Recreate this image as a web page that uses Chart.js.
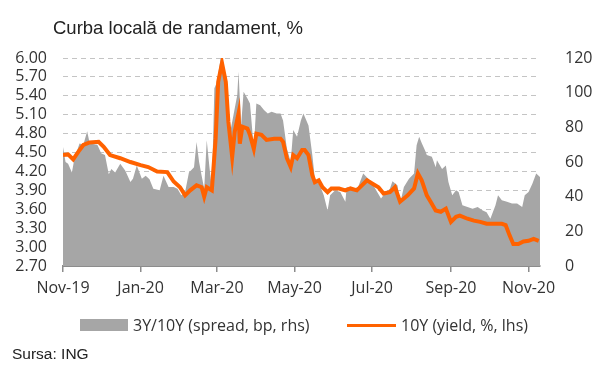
<!DOCTYPE html>
<html>
<head>
<meta charset="utf-8">
<script src="https://cdn.jsdelivr.net/npm/chart.js@4"></script>
<style>
    body { margin: 0; background: #fff; }
    #wrap { position: relative; width: 600px; height: 371px; overflow: hidden; }
    #chart { position: absolute; left: 0; top: 0; }
    .txt { position: absolute; white-space: nowrap; color: #222; }
    #title { left: 53px; top: 19px; font: 18.5px "Liberation Sans", Arial, sans-serif; line-height: 1; }
    .leg { top: 316px; font: 16px "Open Sans", sans-serif; color: #333; line-height: 18px; }
    #src { left: 12px; top: 346px; font: 15.5px "Liberation Sans", Arial, sans-serif; line-height: 1; }
</style>
</head>
<body>
<div id="wrap">
    <canvas id="chart" width="600" height="371"></canvas>
    <div class="txt" id="title">Curba locală de randament, %</div>
    <div style="position:absolute;left:80px;top:319px;width:48px;height:12px;background:#a6a6a6"></div>
    <div class="txt leg" style="left:133px">3Y/10Y (spread, bp, rhs)</div>
    <div style="position:absolute;left:347px;top:324px;width:49px;height:3px;background:#ff6200"></div>
    <div class="txt leg" style="left:401px">10Y (yield, %, lhs)</div>
    <div class="txt" id="src">Sursa: ING</div>
</div>
<script>
// days counted from 1 Nov 2019
const tickDays = [0, 61, 121, 182, 243, 305, 366];
const tickLabels = ['Nov-19', 'Jan-20', 'Mar-20', 'May-20', 'Jul-20', 'Sep-20', 'Nov-20'];
const yieldTicks = [2.7, 3.0, 3.3, 3.6, 3.9, 4.2, 4.5, 4.8, 5.1, 5.4, 5.7, 6.0];

// 3Y/10Y spread, bp (right axis)
const spreadDays = [0, 2, 4, 7, 9, 13, 16, 19, 21, 27, 30, 33, 36, 38, 41, 45, 49, 53, 55, 58,
    62, 65, 68, 71, 76, 79, 83, 87, 90, 93, 96, 99, 103, 105, 107, 109, 111, 113, 115, 117,
    119, 121, 124, 126, 129, 131, 134, 137, 138, 140, 142, 145, 147, 150, 152, 155, 158, 161, 164, 168,
    171, 173, 176, 179, 181, 184, 187, 189, 193, 196, 198, 202, 205, 208, 210, 214, 218, 222, 223, 228,
    232, 236, 240, 244, 250, 253, 257, 259, 263, 265, 268, 272, 276, 278, 280, 282, 285, 286, 290, 293,
    294, 298, 301, 303, 306, 309, 311, 314, 318, 322, 326, 330, 333, 336, 340, 342, 345, 349, 353, 357,
    361, 363, 366, 369, 372, 375];
const spreadValues = [68.7, 60, 59, 54, 62, 70.7, 70, 77.8, 70.7, 70, 65, 64, 53, 56, 54, 59, 55, 48.5, 50.4, 58,
    50.4, 52, 50, 44.6, 43.7, 52, 45.6, 45.6, 44.6, 40.8, 42.7, 54, 57, 71.6, 60, 52, 44.6, 72.6, 58, 44.6,
    102.5, 106, 120, 114, 102.5, 75.5, 87, 98.6, 112, 81, 100.5, 96.7, 93.8, 67.8, 93.8, 92.8, 90, 88, 89, 88,
    88, 84, 67.8, 60, 78.4, 74.5, 84, 88, 81, 64, 50.4, 46.5, 40.8, 32, 40.8, 43.7, 42.7, 37, 45.6, 44.6,
    45.6, 53.3, 50.4, 46.5, 38.9, 41.8, 44.6, 48.9, 46.5, 36, 45.6, 50.4, 53.3, 69.7, 74.5, 71, 66, 64, 63, 57,
    61, 56, 58, 48.5, 40.8, 43.7, 42.7, 35, 34, 33, 34, 32, 31, 27.3, 35, 40.8, 37.9, 37, 36, 36,
    34, 40.8, 42.7, 47.5, 53.3, 51.4];

// 10Y yield, % (left axis)
const yieldDays = [0, 4, 8, 12, 16, 21, 28, 32, 37, 45, 53, 61, 67, 74, 82, 87, 92, 96, 100, 105,
    109, 111, 113, 117, 120, 122, 125, 128, 130, 133, 135, 138, 139, 141, 145, 147, 150, 152, 156, 160,
    166, 171, 173, 176, 179, 181, 184, 188, 190, 193, 196, 198, 201, 204, 208, 211, 217, 222, 226, 231,
    235, 239, 243, 248, 252, 257, 261, 265, 271, 276, 279, 282, 286, 289, 293, 297, 301, 305, 309, 312,
    318, 323, 328, 333, 339, 345, 348, 351, 354, 358, 362, 366, 370, 374];
const yieldValues = [4.46, 4.47, 4.39, 4.51, 4.62, 4.66, 4.67, 4.59, 4.46, 4.41, 4.35, 4.30, 4.27, 4.20, 4.19, 4.04, 3.95, 3.82, 3.90, 3.98,
    3.95, 3.80, 3.95, 3.90, 4.72, 5.62, 5.92, 5.62, 4.99, 4.43, 4.83, 5.12, 4.64, 4.91, 4.88, 4.78, 4.56, 4.80, 4.78, 4.70,
    4.72, 4.72, 4.67, 4.41, 4.27, 4.46, 4.41, 4.54, 4.54, 4.46, 4.14, 4.03, 4.06, 3.95, 3.87, 3.93, 3.93, 3.90, 3.93, 3.90,
    3.98, 4.06, 4.01, 3.95, 3.85, 3.87, 3.95, 3.72, 3.82, 3.93, 4.17, 4.06, 3.82, 3.72, 3.58, 3.56, 3.61, 3.40, 3.48, 3.50,
    3.45, 3.42, 3.40, 3.37, 3.37, 3.37, 3.35, 3.19, 3.05, 3.05, 3.09, 3.10, 3.13, 3.10];

const tickFont = { family: 'Open Sans', size: 16 };
const tickColor = '#333';

new Chart(document.getElementById('chart'), {
    type: 'line',
    data: {
        datasets: [
            {
                label: '10Y (yield, %, lhs)',
                data: yieldDays.map((d, i) => ({ x: d, y: yieldValues[i] })),
                yAxisID: 'y',
                borderColor: '#ff6200',
                borderWidth: 4,
                pointRadius: 0,
                fill: false,
                order: 0
            },
            {
                label: '3Y/10Y (spread, bp, rhs)',
                data: spreadDays.map((d, i) => ({ x: d, y: spreadValues[i] })),
                yAxisID: 'y1',
                borderWidth: 0,
                borderColor: 'rgba(0,0,0,0)',
                backgroundColor: '#a6a6a6',
                pointRadius: 0,
                fill: 'start',
                order: 1
            }
        ]
    },
    options: {
        responsive: false,
        animation: false,
        events: [],
        layout: { padding: { top: 58, bottom: 65, left: 0, right: 0 } },
        plugins: { legend: { display: false }, tooltip: { enabled: false } },
        scales: {
            x: {
                type: 'linear',
                min: 0,
                max: 375,
                afterBuildTicks: axis => { axis.ticks = tickDays.map(v => ({ value: v })); },
                afterFit: s => { s.height = 40; },
                ticks: {
                    autoSkip: false,
                    maxRotation: 0,
                    padding: 7,
                    font: tickFont,
                    color: tickColor,
                    callback: (v, i) => tickLabels[i]
                },
                grid: { drawOnChartArea: false, drawTicks: true, tickLength: 6, color: '#8c8c8c', lineWidth: 1.5 },
                border: { display: true, color: '#8c8c8c', width: 2 }
            },
            y: {
                position: 'left',
                min: 2.7,
                max: 6.0,
                afterBuildTicks: axis => { axis.ticks = yieldTicks.map(v => ({ value: v })); },
                afterFit: s => { s.width = 63; },
                ticks: {
                    autoSkip: false,
                    padding: 16,
                    font: tickFont,
                    color: tickColor,
                    callback: v => v.toFixed(2)
                },
                grid: { display: true, drawOnChartArea: true, color: '#c4c4c4', lineWidth: 1, drawTicks: false },
                border: { display: true, width: 0, dash: [5, 4] }
            },
            y1: {
                position: 'right',
                min: 0,
                max: 120,
                afterFit: s => { s.width = 60; },
                ticks: { autoSkip: false, stepSize: 20, padding: 17, font: tickFont, color: tickColor },
                grid: { display: false },
                border: { display: false }
            }
        }
    }
});
</script>
</body>
</html>
